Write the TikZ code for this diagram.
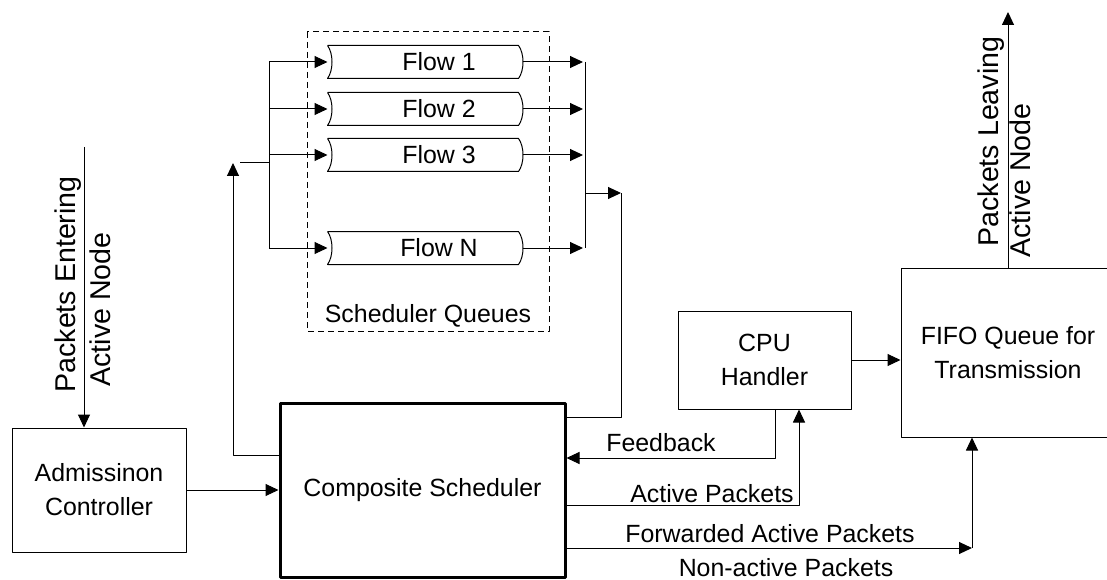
\documentclass[tikz,border=0pt]{standalone}
\usepackage{fontspec}
\setmainfont{Liberation Sans}
\usetikzlibrary{arrows.meta}
\tikzset{
  box/.style={draw, line width=1pt, inner sep=0pt, align=center},
  queue/.style={inner sep=0pt, minimum width=194pt, minimum height=32pt},
  arr/.style={-{Triangle[length=13pt,width=12pt]}},
  lbl/.style={inner sep=0pt},
  vlbl/.style={inner sep=0pt, rotate=90, anchor=base west, font=\fontsize{28.6}{34}\selectfont},
}
\begin{document}
\begin{tikzpicture}[x=1pt, y=-1pt, line width=1pt, line join=round,
  font=\fontsize{24.9}{34}\selectfont]
\useasboundingbox (0,0) rectangle (1107,580);
% boxes
\node[box, minimum width=174pt, minimum height=124pt] (adm) at (99,490) {Admissinon\\Controller};
\node[box, line width=3pt, minimum width=285pt, minimum height=174pt] (comp) at (422.5,490) {Composite Scheduler};
\node[box, minimum width=173pt, minimum height=98pt] (cpu) at (764.5,360) {CPU\\Handler};
\node[box, minimum width=214pt, minimum height=169pt] (fifo) at (1008,352.5) {FIFO Queue for\\Transmission};
% scheduler queues
\draw[dash pattern=on 6pt off 4pt] (307,32) rectangle (549,331);
\node[lbl] (sq) at (428,316) {Scheduler Queues};
\foreach \i/\y/\t in {1/62/1, 2/109/2, 3/155/3, n/248/N}{
  \node[queue] (q\i) at (425,\y) {};
  \node[lbl] (f\i) at ([xshift=14pt]q\i.center) {Flow \t};
  \draw (q\i.north west) -- ([xshift=-4pt]q\i.north east)
    .. controls +(6,8) and +(6,-8) .. ([xshift=-4pt]q\i.south east)
    -- (q\i.south west) .. controls +(6,-8) and +(6,8) .. (q\i.north west);
  \draw[arr] (269,\y) -- (q\i.west);
  \draw[arr] (q\i.east) -- (583,\y);
}
\coordinate (inbus) at (233,163);
\coordinate (outbus) at (621,193);
\draw (269,62) -- (269,248);
\draw (240,163) -- (269,163);
\draw (585,62) -- (585,248);
\draw[arr] (585,193) -- (outbus);
\draw (outbus) |- (comp.east |- 0,417);
\draw[arr] (comp.west |- 0,455) -| (inbus);
% connections
\draw[arr] (adm) -- (comp);
\draw[arr] (cpu) -- (fifo.west |- cpu);
\draw[arr] (cpu.south -| 775,0) |- (comp.east |- 0,458);
\draw[arr] (comp.east |- 0,505) -| (cpu.south -| 799,0);
\coordinate (fwd) at (972,548);
\draw[arr] (comp.east |- fwd) -- (fwd);
\draw[arr] (fwd) -- (fwd |- fifo.south);
\node[lbl] (fbl) at (661,443) {Feedback};
\node[lbl] (apl) at (712,494) {Active Packets};
\node[lbl] (fal) at (770,534) {Forwarded Active Packets};
\node[lbl] (nal) at (786,568) {Non-active Packets};
% entering / leaving
\coordinate (enter) at (84,147);
\draw[arr] (enter) -- (adm.north -| enter);
\node[vlbl] (pe1) at (75.5,393) {Packets Entering};
\node[vlbl] (pe2) at (110.5,387) {Active Node};
\coordinate (leave) at (1008,12);
\draw[arr] (fifo.north -| leave) -- (leave);
\node[vlbl] (pl1) at (998.5,247) {Packets Leaving};
\node[vlbl] (pl2) at (1030.5,258) {Active Node};
\end{tikzpicture}
\end{document}
